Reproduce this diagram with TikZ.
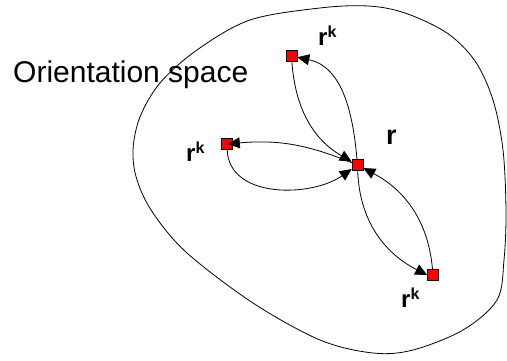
\documentclass[tikz,border=0pt]{standalone}
\usepackage{fontspec}
\setmainfont{Liberation Sans}
\usepackage{tikz}
\usetikzlibrary{arrows.meta}
\tikzset{
  orient/.style={rectangle, draw=black, fill=red, line width=0.6pt,
    minimum size=11pt, inner sep=0pt},
  rklbl/.style={anchor=base west, inner sep=0pt, font=\fontsize{24}{24}\selectfont\bfseries},
  flow/.style={-{Triangle[length=12pt,width=11pt]}, draw=black, line width=0.8pt},
}
\newcommand{\rkl}{r\raisebox{8pt}{\fontsize{16}{16}\selectfont k}}

\begin{document}
\begin{tikzpicture}[x=1pt, y=1pt,
  blob/.style={draw=black, line width=0.8pt}]
\useasboundingbox (0,0) rectangle (507,361);
% orientation space outline
\draw[blob] plot[smooth cycle, tension=0.55] coordinates {
  (133,211) (140,244) (160,278) (197,311) (250,341) (320,353) (368,355)
  (405,348) (447,328) (475,300) (493,261) (503,211) (506,150) (504,101) (497,61)
  (463,31) (413,11) (373,8) (320,21) (253,58) (187,108) (153,148) (137,181)};
\node[anchor=base west, inner sep=0pt, font=\fontsize{30}{30}\selectfont] (title) at (13,278) {Orientation space};

\node[orient] (r) at (357.5,196) {};
\node[orient] (rk1) at (291.5,305) {};
\node[orient] (rk2) at (227,217) {};
\node[orient] (rk3) at (433,86) {};

\node[rklbl, font=\fontsize{27}{27}\selectfont\bfseries] (rlbl) at (386,216) {r};
\node[rklbl] (rk1lbl) at (318,315) {\rkl};
\node[rklbl] (rk2lbl) at (186,199) {\rkl};
\node[rklbl] (rk3lbl) at (401,53) {\rkl};

\draw[flow] (r) to[out=95,in=-12] (rk1);
\draw[flow] (rk1) to[out=-86,in=150] (r);
\draw[flow, shorten >=-5pt] (r) to[out=158,in=5] (rk2);
\draw[flow] (rk2) to[out=-88,in=-145] (r);
\draw[flow] (r) to[out=-88,in=153] (rk3.west);
\draw[flow] (rk3) to[out=95,in=-28] (r);
\end{tikzpicture}
\end{document}
